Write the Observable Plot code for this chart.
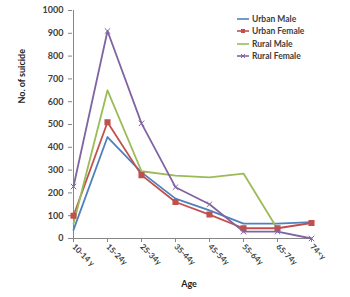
<!DOCTYPE html>
<html><head><meta charset="utf-8">
<script src="https://cdn.jsdelivr.net/npm/d3@7"></script>
<script src="https://cdn.jsdelivr.net/npm/@observablehq/plot@0.6"></script>
<style>
body{margin:0;background:#fff;}
#wrap{position:relative;width:350px;height:297px;font-family:Lato,"Open Sans",sans-serif;}
#legend{position:absolute;left:237px;top:13px;font-size:8.5px;font-weight:bold;color:#404040;line-height:12.3px;}
#legend div{display:flex;align-items:center;white-space:nowrap;}
#legend svg{margin-right:2px;}
</style></head>
<body><div id="wrap"><div id="legend"></div></div>
<script>
const ages = ["10-14 y","15-24y","25-34y","35-44y","45-54y","55-64y","65-74y","74<y"];
const seriesNames = ["Urban Male","Urban Female","Rural Male","Rural Female"];
const urbanMale   = [38, 445, 290, 175, 123, 65, 65, 72];
const urbanFemale = [100, 510, 278, 160, 105, 45, 45, 68];
const ruralMale   = [65, 650, 295, 276, 268, 285, 42, null];
const ruralFemale = [228, 910, 505, 225, 150, 30, 30, 0];
const yTicks = [0,100,200,300,400,500,600,700,800,900,1000];
const colors = ["#4F81BD","#C0504D","#9BBB59","#8064A2"];
const yTitle = "No. of suicide";
const xTitle = "Age";

const all = [urbanMale, urbanFemale, ruralMale, ruralFemale];
const rows = [];
all.forEach((vals, si) => vals.forEach((v, i) => rows.push({age: ages[i], series: seriesNames[si], value: v})));

const chart = Plot.plot({
  width: 350, height: 297,
  marginLeft: 72, marginRight: 39, marginTop: 10, marginBottom: 59,
  style: {fontFamily: "Lato, 'Open Sans', sans-serif", background: "transparent"},
  x: {type: "point", domain: ages, padding: 0},
  y: {domain: [0, 1000]},
  color: {domain: seriesNames, range: colors},
  marks: [
    Plot.axisY({ticks: yTicks, tickFormat: d => String(d), tickSize: 4, tickPadding: 5, fontSize: 9, fontWeight: "bold", color: "#404040", stroke: "#868686", label: null}),
    Plot.axisX({tickSize: 4, tickRotate: 45, tickPadding: 3, fontSize: 8, fontWeight: "bold", color: "#404040", stroke: "#868686", label: null}),
    Plot.ruleY([0], {stroke: "#868686"}),
    Plot.ruleX([ages[0]], {y1: 0, y2: 1000, stroke: "#868686"}),
    Plot.line(rows, {x: "age", y: "value", z: "series", stroke: "series", strokeWidth: 1.8, defined: d => d.value != null}),
    Plot.dot(rows.filter(d => d.series === "Urban Female"), {x: "age", y: "value", symbol: "square", r: 2.6, fill: colors[1], stroke: colors[1]}),
    Plot.dot(rows.filter(d => d.series === "Rural Female"), {x: "age", y: "value", symbol: "times", r: 2.6, stroke: colors[3], strokeWidth: 1}),
    Plot.text([yTitle], {frameAnchor: "left", rotate: -90, dx: -50, dy: -21, fontSize: 9, fontWeight: "bold", fill: "#222"}),
    Plot.text([xTitle], {frameAnchor: "bottom", dy: 48, dx: -3, fontSize: 9, fontWeight: "bold", fill: "#222"})
  ]
});
document.getElementById("wrap").prepend(chart);

const leg = document.getElementById("legend");
seriesNames.forEach((name, i) => {
  const row = document.createElement("div");
  let marker = "";
  if (i === 1) marker = `<rect x="4" y="2" width="4" height="4" fill="${colors[1]}"/>`;
  if (i === 3) marker = `<path d="M4,2L8,6M8,2L4,6" stroke="${colors[3]}" stroke-width="1"/>`;
  row.innerHTML = `<svg width="13" height="8"><line x1="0" x2="12" y1="4" y2="4" stroke="${colors[i]}" stroke-width="1.6"/>${marker}</svg><span>${name}</span>`;
  leg.appendChild(row);
});
</script></body></html>
